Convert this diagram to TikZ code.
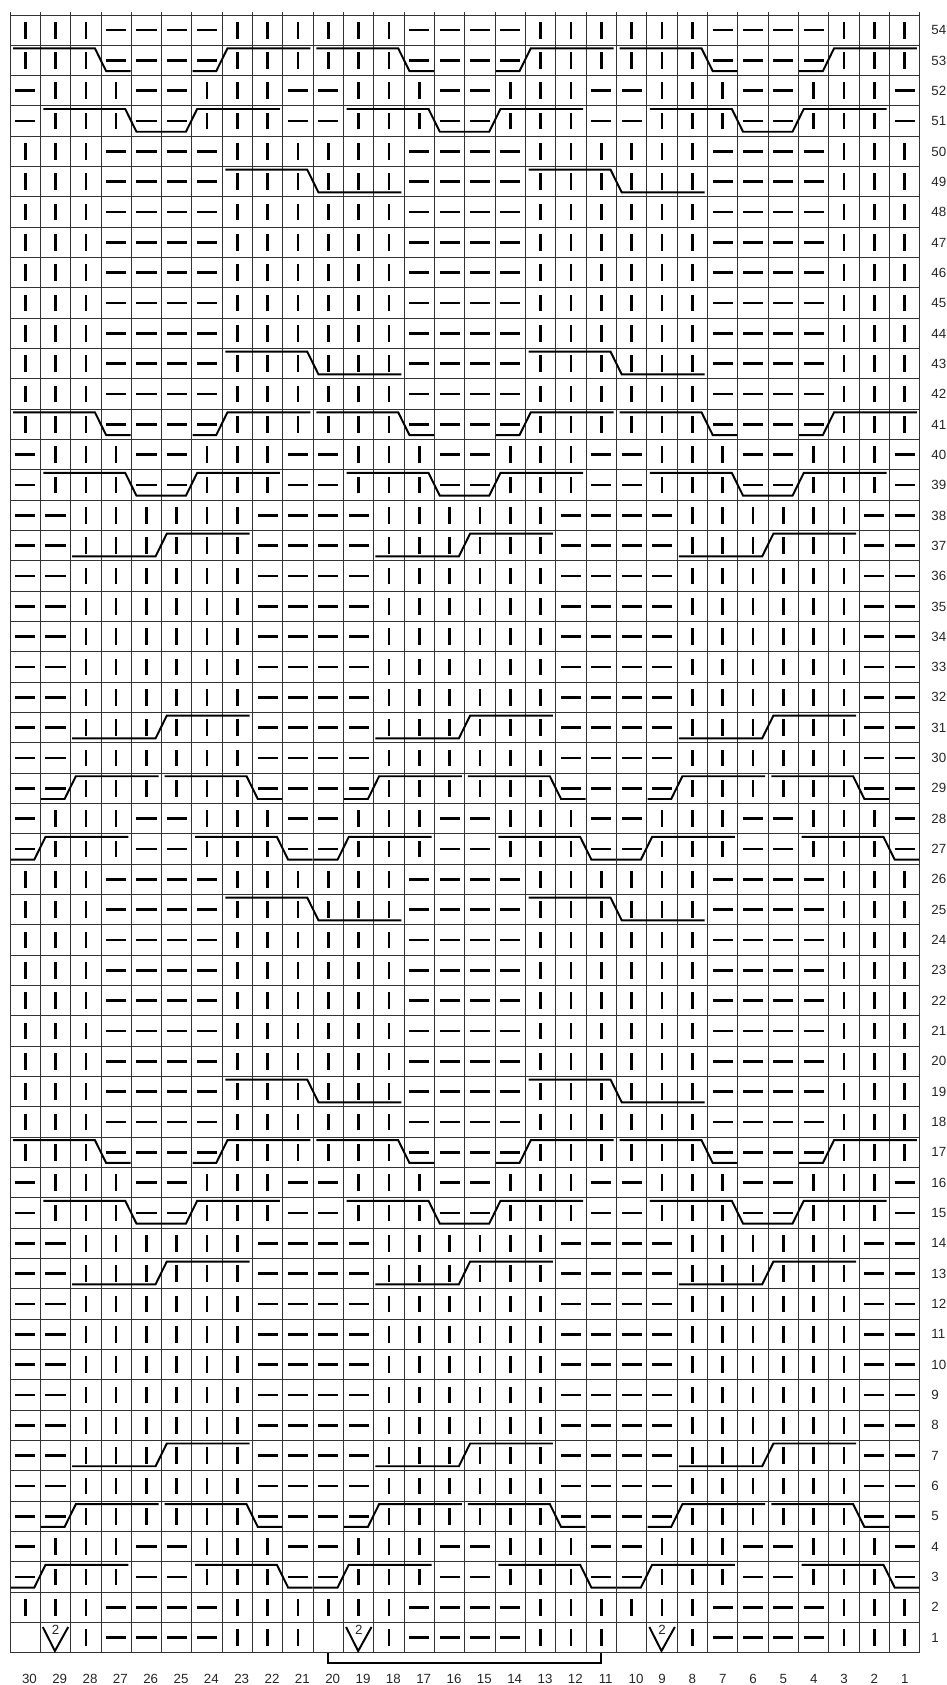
\documentclass[tikz,border=0pt]{standalone}
\usepackage{fontspec}
\setmainfont{Liberation Sans}
\usepackage{tikz}
\usetikzlibrary{calc}

% cable line levels inside a row (measured from the row's top edge)
\newcommand{\cabhi}{-0.1}
\newcommand{\cablo}{-0.85}

% #1 = rows, #2 = one 10-stitch repeat (cols 30..21), drawn three times
\newcommand{\stitchrows}[2]{%
  \foreach \r in {#1} {\foreach \p in {0,10,20} {%
    \foreach \s [count=\j] in {#2} {\pic at ({\p+\j-0.5},{\r-0.5}) {st\s};}}}}

\begin{document}
\begin{tikzpicture}[
  x=0.6cm, y=0.6cm,
  font=\fontsize{7.5}{9}\selectfont,
  gridline/.style={line width=0.55pt, black!80},
  bar/.style={line width=1.5pt},
  cab/.style={line width=1.1pt},
  vee/.style={line width=1.1pt, line join=miter},
  lbl/.style={inner sep=0pt, text=black!85},
  pics/stk/.style={code={\draw[bar] (0,-0.275) -- (0,0.275);}},
  pics/stp/.style={code={\draw[bar] (-0.33,0) -- (0.33,0);}},
  pics/ste/.style={code={}}
]
\useasboundingbox (-0.33,-1.062) rectangle (30.89,54.495);

% ---- grid ----
\foreach \i in {0,...,30} \draw[gridline] (\i,0) -- (\i,54.11);
\foreach \j in {0,...,54} \draw[gridline] (0,\j) -- (30,\j);

% ---- stitches ----
\stitchrows{1}{e,e,k,p,p,p,p,k,k,k}
\stitchrows{2,17,18,...,26,41,42,...,50,53,54}{k,k,k,p,p,p,p,k,k,k}
\stitchrows{3,4,15,16,27,28,39,40,51,52}{p,k,k,k,p,p,k,k,k,p}
\stitchrows{5,6,...,14,29,30,...,38}{p,p,k,k,k,k,k,k,p,p}

% increases in row 1
\foreach \p in {0,10,20} {
  \draw[vee] (\p+1.08,0.85) -- (\p+1.48,0.06) -- (\p+1.92,0.85);
  \node[lbl] (inc\p) at (\p+1.5,0.75) {2};
}

% ---- cables ----
\foreach \r in {17,41,53} \foreach \p in {0,10,20} {
  \draw[cab, shift={(\p,\r)}] (0.1,\cabhi) -- (2.8,\cabhi) -- (3.17,\cablo) -- (3.98,\cablo);
  \draw[cab, shift={(\p,\r)}] (6.02,\cablo) -- (6.8,\cablo) -- (7.17,\cabhi) -- (9.9,\cabhi);
}
\foreach \r in {15,39,51} \foreach \p in {0,10,20} {
  \draw[cab, shift={(\p,\r)}] (1.1,\cabhi) -- (3.8,\cabhi) -- (4.17,\cablo)
    -- (5.8,\cablo) -- (6.17,\cabhi) -- (8.9,\cabhi);
}
\foreach \r in {19,25,43,49} \foreach \p in {0,10} {
  \draw[cab, shift={(\p,\r)}] (7.1,\cabhi) -- (9.8,\cabhi) -- (10.17,\cablo) -- (12.9,\cablo);
}
\foreach \r in {7,13,31,37} \foreach \p in {0,10,20} {
  \draw[cab, shift={(\p,\r)}] (2.05,\cablo) -- (4.8,\cablo) -- (5.17,\cabhi) -- (7.9,\cabhi);
}
\foreach \r in {5,29} \foreach \p in {0,10,20} {
  \draw[cab, shift={(\p,\r)}] (1.02,\cablo) -- (1.8,\cablo) -- (2.17,\cabhi) -- (4.9,\cabhi);
  \draw[cab, shift={(\p,\r)}] (5.1,\cabhi) -- (7.8,\cabhi) -- (8.17,\cablo) -- (8.98,\cablo);
}
\foreach \r in {3,27} \foreach \p in {0,10,20} {
  \draw[cab, shift={(\p,\r)}] (0.02,\cablo) -- (0.8,\cablo) -- (1.17,\cabhi) -- (3.9,\cabhi);
  \draw[cab, shift={(\p,\r)}] (6.1,\cabhi) -- (8.8,\cabhi) -- (9.17,\cablo) -- (9.98,\cablo);
}

% ---- numbering ----
\foreach \n in {1,...,54} \node[lbl, anchor=west] (row\n) at (30.37,\n-0.5) {\n};
\foreach \n in {1,...,30} \node[lbl] (col\n) at ({30.5-\n+0.14*(\n>9)},-0.86) {\n};

% repeat bracket (cols 20-11)
\coordinate (repL) at (10.5,0);
\coordinate (repR) at (19.5,0);
\draw[cab] (repL) -- ++(0,-0.34) -| (repR);

\end{tikzpicture}
\end{document}
